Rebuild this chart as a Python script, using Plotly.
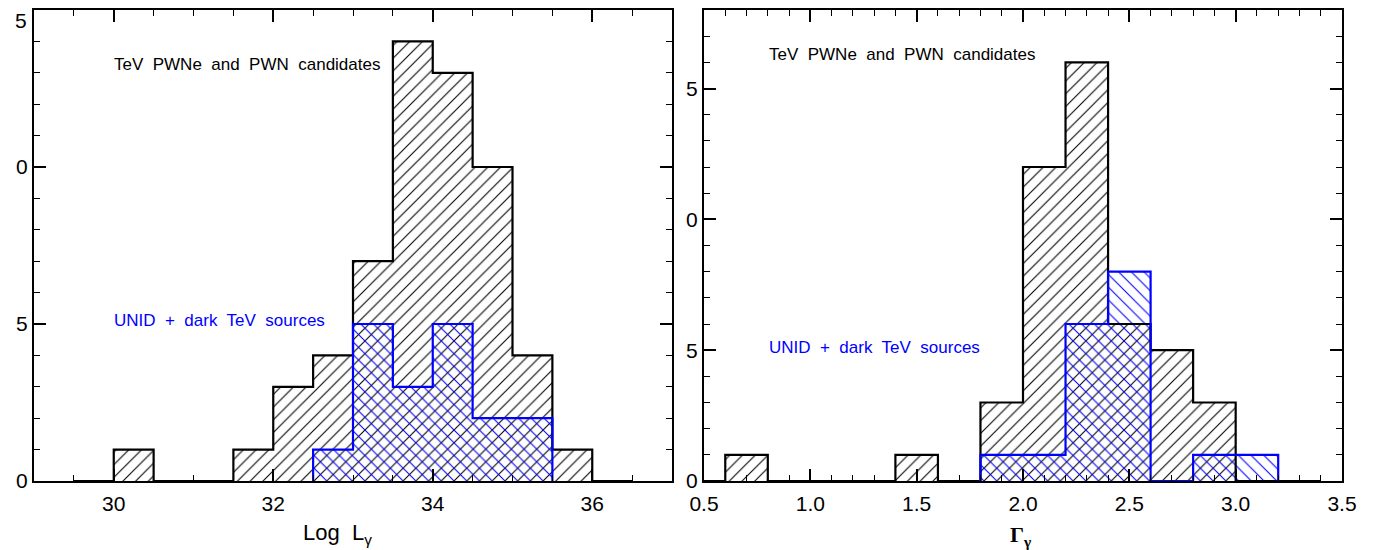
import plotly.graph_objects as go

# ---- data ----
lum_left = [29.5, 30.0, 30.5, 31.0, 31.5, 32.0, 32.5, 33.0, 33.5, 34.0, 34.5, 35.0, 35.5, 36.0]
lum_width = 0.5
lum_pwn = [0, 1, 0, 0, 1, 3, 4, 7, 14, 13, 10, 4, 1, 0]
lum_unid = [0, 0, 0, 0, 0, 0, 1, 5, 3, 5, 2, 2, 0, 0]

gam_left = [0.4, 0.6, 0.8, 1.0, 1.2, 1.4, 1.6, 1.8, 2.0, 2.2, 2.4, 2.6, 2.8, 3.0, 3.2]
gam_width = 0.2
gam_pwn = [0, 1, 0, 0, 0, 1, 0, 3, 12, 16, 6, 5, 3, 0, 0]
gam_unid = [0, 0, 0, 0, 0, 0, 0, 1, 1, 6, 8, 0, 1, 1, 0]

y_tickvals_left = [0, 5, 10]
y_ticktext_left = ["0", "5", "0"]
y_tickvals_right = [0, 5, 10, 15]
y_ticktext_right = ["0", "5", "0", "5"]
top_label_left = "5"
lum_ticks = [30, 32, 34, 36]
gam_ticks = [0.5, 1.0, 1.5, 2.0, 2.5, 3.0, 3.5]
gam_ticktext = ["0.5", "1.0", "1.5", "2.0", "2.5", "3.0", "3.5"]

label_pwn = "TeV\u00a0 PWNe\u00a0 and\u00a0 PWN\u00a0 candidates"
label_unid = "UNID\u00a0 +\u00a0 dark\u00a0 TeV\u00a0 sources"
title_lum = "Log\u00a0 L<sub>γ</sub>"
title_gam = "<b>Γ</b><sub><b>γ</b></sub>"

FONT = "Liberation Sans"
BLUE = "#0000ff"

fig = go.Figure()


def add_hist(lefts, width, counts, xa, ya, color, shape, bg, trim):
    centers = [l + width / 2 for l in lefts]
    fig.add_trace(go.Bar(
        x=centers, y=counts, width=[width] * len(counts),
        xaxis=xa, yaxis=ya,
        marker=dict(color=bg, line=dict(width=0),
                    pattern=dict(shape=shape, fgcolor=color, bgcolor=bg,
                                 size=9, solidity=0.12, fillmode="replace")),
        showlegend=False, hoverinfo="skip"))
    if trim:
        nz = [i for i, c in enumerate(counts) if c > 0]
        i0, i1 = nz[0], nz[-1]
        ls = lefts[i0:i1 + 1]
        cs = counts[i0:i1 + 1]
        xs = [ls[0]] + list(ls) + [ls[-1] + width]
        ys = [0] + list(cs) + [0]
    else:
        xs = list(lefts) + [lefts[-1] + width]
        ys = list(counts) + [counts[-1]]
    fig.add_trace(go.Scatter(
        x=xs, y=ys, mode="lines", line=dict(color=color, width=2.2, shape="hv"),
        xaxis=xa, yaxis=ya, showlegend=False, hoverinfo="skip"))


add_hist(lum_left, lum_width, lum_pwn, "x", "y", "black", "/", "white", False)
add_hist(lum_left, lum_width, lum_unid, "x", "y", BLUE, "\\", "rgba(0,0,0,0)", True)
add_hist(gam_left, gam_width, gam_pwn, "x2", "y2", "black", "/", "white", False)
add_hist(gam_left, gam_width, gam_unid, "x2", "y2", BLUE, "\\", "rgba(0,0,0,0)", True)

axis_common = dict(showline=True, linecolor="black", linewidth=2, mirror="allticks",
                   ticks="inside", ticklen=12, tickwidth=1.5, tickcolor="black",
                   showgrid=False, zeroline=False, automargin=False,
                   tickfont=dict(family=FONT, size=21, color="black"))

W = 1308
fig.update_layout(
    width=1366, height=542,
    margin=dict(l=26, r=32, t=2, b=69),
    paper_bgcolor="white", plot_bgcolor="white",
    barmode="overlay", bargap=0,
    font=dict(family=FONT, color="black"),
    xaxis=dict(domain=[0, 638 / W], range=[29, 37], tickvals=lum_ticks,
               minor=dict(dtick=0.5, tick0=0, ticks="inside", ticklen=6, tickwidth=1.2, tickcolor="black"),
               ticklabelstandoff=3,
               **axis_common),
    yaxis=dict(anchor="x", range=[0, 15], tickvals=y_tickvals_left, ticktext=y_ticktext_left,
               minor=dict(dtick=1, tick0=0, ticks="inside", ticklen=6, tickwidth=1.2, tickcolor="black"),
               **axis_common),
    xaxis2=dict(domain=[670 / W, 1], range=[0.5, 3.5], tickvals=gam_ticks, ticktext=gam_ticktext,
                minor=dict(dtick=0.1, tick0=0, ticks="inside", ticklen=6, tickwidth=1.2, tickcolor="black"),
                ticklabelstandoff=3,
                anchor="y2", **axis_common),
    yaxis2=dict(anchor="x2", range=[0, 18], tickvals=y_tickvals_right, ticktext=y_ticktext_right,
                minor=dict(dtick=1, tick0=0, ticks="inside", ticklen=6, tickwidth=1.2, tickcolor="black"),
                **axis_common),
)

# axis titles
fig.add_annotation(x=(329 - 26) / W, y=0, xref="paper", yref="paper", text=title_lum, showarrow=False,
                   xanchor="center", yanchor="middle", yshift=-53,
                   font=dict(family=FONT, size=22, color="black"))
fig.add_annotation(x=(1012 - 26) / W, y=0, xref="paper", yref="paper", text=title_gam, showarrow=False,
                   xanchor="center", yanchor="middle", yshift=-55,
                   font=dict(family="Liberation Serif", size=22, color="black"))

# top-left tick label (drawn slightly below the corner, as in the original)
fig.add_annotation(x=0, y=15, xref="paper", yref="y", text=top_label_left, showarrow=False,
                   xanchor="right", yanchor="middle", xshift=-5, yshift=-10,
                   font=dict(family=FONT, size=21, color="black"))

fig.add_annotation(x=29.98, y=13.25, xref="x", yref="y", text=label_pwn, showarrow=False,
                   xanchor="left", yanchor="middle", font=dict(family=FONT, size=17, color="black"))
fig.add_annotation(x=29.98, y=5.1, xref="x", yref="y", text=label_unid, showarrow=False,
                   xanchor="left", yanchor="middle", font=dict(family=FONT, size=17, color=BLUE))
fig.add_annotation(x=0.795, y=16.3, xref="x2", yref="y2", text=label_pwn, showarrow=False,
                   xanchor="left", yanchor="middle", font=dict(family=FONT, size=17, color="black"))
fig.add_annotation(x=0.795, y=5.1, xref="x2", yref="y2", text=label_unid, showarrow=False,
                   xanchor="left", yanchor="middle", font=dict(family=FONT, size=17, color=BLUE))

fig.write_html("out.html")
